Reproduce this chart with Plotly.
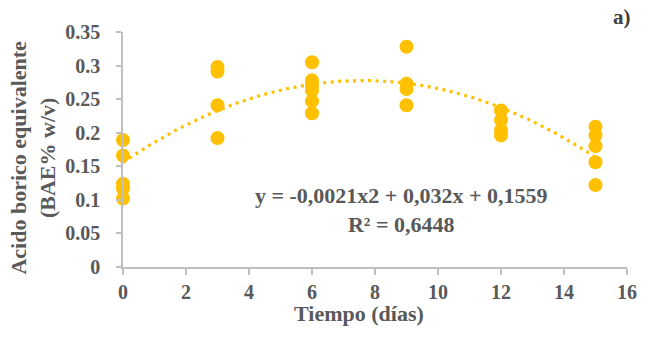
import numpy as np
import plotly.graph_objects as go

# Boric acid equivalent measured on each sampling day (replicates)
dias = [0, 0, 0, 0, 0,
        3, 3, 3, 3,
        6, 6, 6, 6, 6, 6,
        9, 9, 9, 9,
        12, 12, 12, 12,
        15, 15, 15, 15, 15]
bae = [0.189, 0.166, 0.124, 0.117, 0.102,
       0.298, 0.291, 0.241, 0.192,
       0.305, 0.278, 0.271, 0.263, 0.247, 0.229,
       0.328, 0.273, 0.265, 0.241,
       0.233, 0.219, 0.204, 0.196,
       0.209, 0.196, 0.180, 0.156, 0.122]

# Quadratic trend coefficients (a*x^2 + b*x + c) and fit quality
coef_a, coef_b, coef_c = -0.0021, 0.032, 0.1559
r2 = 0.6448

x_ticks = [0, 2, 4, 6, 8, 10, 12, 14, 16]
y_ticks = [0, 0.05, 0.1, 0.15, 0.2, 0.25, 0.3, 0.35]
y_tick_text = ["0", "0.05", "0.1", "0.15", "0.2", "0.25", "0.3", "0.35"]

GOLD = "#FFC000"
TEXT = "#595959"
AXIS = "#BFBFBF"
FONT = "'Liberation Serif', 'Times New Roman', serif"

xt = np.linspace(min(dias), max(dias), 200)
yt = coef_a * xt ** 2 + coef_b * xt + coef_c

fig = go.Figure()
fig.add_trace(go.Scatter(
    x=xt, y=yt, mode="lines",
    line=dict(color=GOLD, width=3.2, dash="3px,4.5px"),
    hoverinfo="skip", showlegend=False,
))
fig.add_trace(go.Scatter(
    x=dias, y=bae, mode="markers",
    marker=dict(color=GOLD, size=14, line=dict(width=0)),
    cliponaxis=False, showlegend=False,
))

tick_font = dict(family=FONT, size=20, color=TEXT, weight="bold")

fig.update_layout(
    width=649, height=341,
    margin=dict(l=123, r=13, t=32, b=74),
    plot_bgcolor="white", paper_bgcolor="white",
    font=dict(family=FONT, color=TEXT, size=20),
    xaxis=dict(
        range=[0, 16], tickvals=x_ticks, showgrid=False, zeroline=False,
        showline=True, linecolor=AXIS, linewidth=1.5,
        ticks="outside", ticklen=6, tickcolor=AXIS, tickwidth=1.5,
        tickfont=tick_font, ticklabelstandoff=0,
    ),
    yaxis=dict(
        range=[0, 0.35], tickvals=y_ticks, ticktext=y_tick_text,
        showgrid=False, zeroline=False,
        showline=True, linecolor=AXIS, linewidth=1.5,
        ticks="outside", ticklen=5, tickcolor=AXIS, tickwidth=1.5,
        tickfont=tick_font, ticklabelstandoff=12,
    ),
)

bold = dict(family=FONT, color=TEXT, size=22, weight="bold")

fig.add_annotation(
    text="Tiempo (días)", xref="paper", yref="paper",
    x=0.4675, y=-0.197, showarrow=False, font=bold,
    xanchor="center", yanchor="middle",
)
fig.add_annotation(
    text="Acido borico equivalente<br>(BAE% w/v)", xref="paper", yref="paper",
    x=-0.178, y=0.467, showarrow=False, font=bold, textangle=-90,
    xanchor="center", yanchor="middle",
)
eq_text = (f"y = {coef_a:.4f}x2 + {coef_b:.3f}x + {coef_c:.4f}".replace(".", ",")
           + "<br>" + f"R² = {r2:.4f}".replace(".", ","))
fig.add_annotation(
    text=eq_text, xref="paper", yref="paper",
    x=0.551, y=0.241, showarrow=False, font=bold,
    xanchor="center", yanchor="middle", align="center",
)
fig.add_annotation(
    text="a)", xref="paper", yref="paper",
    x=0.99, y=1.0626, showarrow=False,
    font=dict(family=FONT, color="#404040", size=21, weight="bold"),
    xanchor="center", yanchor="middle",
)

fig.write_html("out.html")
